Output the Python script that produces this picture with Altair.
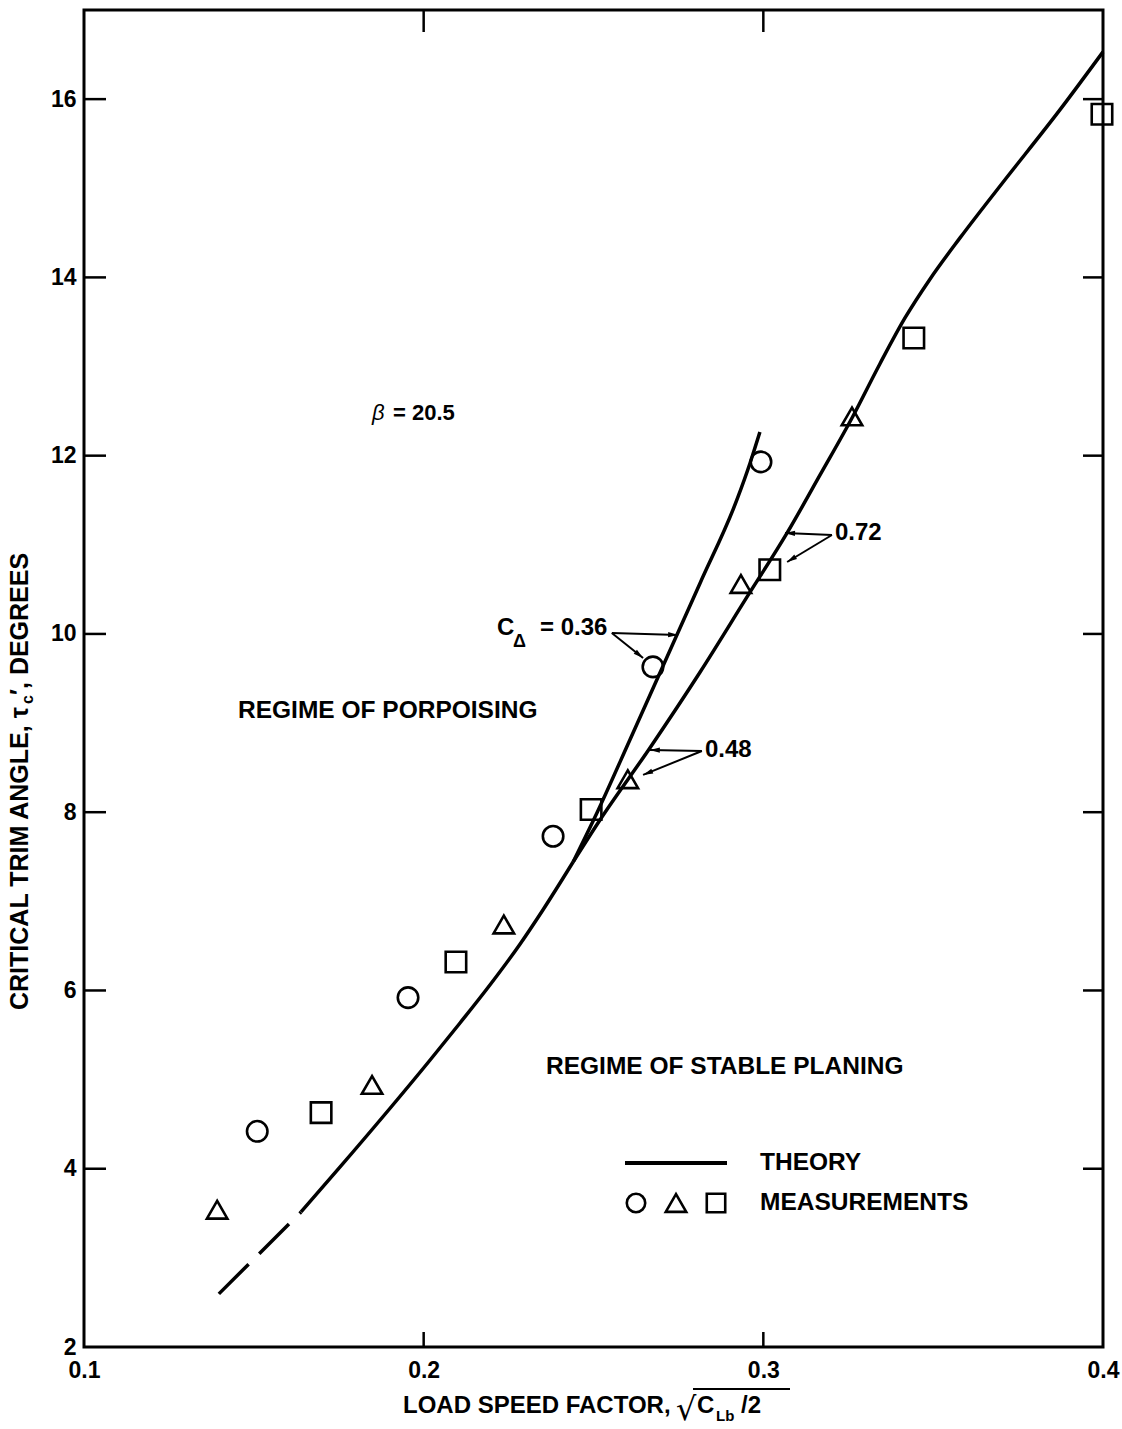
import math
import altair as alt
import pandas as pd

FONT = "Liberation Sans"

# plot area size in pixels and axis ranges
W, H = 1019, 1337
X_DOMAIN = [0.1, 0.4]
Y_DOMAIN = [2, 17]

# ---- measurements (three model series) ----
circle_x = [0.151, 0.1954, 0.2381, 0.2675, 0.2993]
circle_y = [4.42, 5.92, 7.73, 9.63, 11.93]
triangle_x = [0.1392, 0.1848, 0.2236, 0.2601, 0.2934, 0.3261]
triangle_y = [3.54, 4.94, 6.74, 8.37, 10.56, 12.44]
square_x = [0.1698, 0.2095, 0.2493, 0.3019, 0.3443, 0.3997]
square_y = [4.63, 6.32, 8.03, 10.72, 13.32, 15.83]

# ---- theory curves ----
low_dash_x = [0.1397, 0.1639]
low_dash_y = [2.596, 3.515]
common_x = [0.1639, 0.1754, 0.2019, 0.2107, 0.2195, 0.2284, 0.2351, 0.2440]
common_y = [3.515, 4.020, 5.220, 5.635, 6.061, 6.522, 6.903, 7.442]
c036_x = [0.2440, 0.2510, 0.2607, 0.2702, 0.2814, 0.2922, 0.2961, 0.2990]
c036_y = [7.442, 7.991, 8.810, 9.618, 10.572, 11.503, 11.918, 12.266]
c048_x = [0.2440, 0.2519, 0.2666, 0.2814, 0.2952, 0.3070, 0.3167, 0.3261, 0.3343,
          0.3417, 0.3491, 0.3579, 0.3697, 0.3873, 0.4000]
c048_y = [7.442, 7.913, 8.721, 9.573, 10.415, 11.133, 11.784, 12.423, 13.029,
          13.545, 13.983, 14.443, 15.026, 15.879, 16.530]

# tick values
y_ticks = [2, 4, 6, 8, 10, 12, 14, 16]
x_ticks = [0.1, 0.2, 0.3, 0.4]
y_inner_ticks = [4, 6, 8, 10, 12, 14, 16]
x_inner_ticks = [0.2, 0.3]

# leader lines for the C_delta labels: (origin, tip)
leaders = [
    ((0.2554, 10.011), (0.2749, 9.988)),
    ((0.2554, 10.011), (0.2646, 9.730)),
    ((0.3202, 11.110), (0.3064, 11.133)),
    ((0.3202, 11.110), (0.3070, 10.807)),
    ((0.2819, 8.687), (0.2666, 8.698)),
    ((0.2819, 8.687), (0.2646, 8.418)),
]

xs = alt.Scale(domain=X_DOMAIN, nice=False, zero=False)
ys = alt.Scale(domain=Y_DOMAIN, nice=False, zero=False)

axis_x = alt.Axis(
    values=x_ticks, format=".1f", ticks=False, tickSize=0, domain=False, grid=False,
    labelFont=FONT, labelFontSize=23, labelFontWeight="bold", labelColor="black",
    labelPadding=12, title=None, labelFlush=False,
)
axis_y = alt.Axis(
    values=y_ticks, format="d", ticks=False, tickSize=0, domain=False, grid=False,
    labelFont=FONT, labelFontSize=23, labelFontWeight="bold", labelColor="black",
    labelPadding=8, title=None, labelFlush=False,
)


def X(field="x"):
    return alt.X(f"{field}:Q", scale=xs, axis=axis_x, title=None)


def Y(field="y"):
    return alt.Y(f"{field}:Q", scale=ys, axis=axis_y, title=None)


meas = pd.DataFrame(
    {
        "x": circle_x + triangle_x + square_x,
        "y": circle_y + triangle_y + square_y,
        "shape": ["circle"] * len(circle_x)
        + ["triangle-up"] * len(triangle_x)
        + ["square"] * len(square_x),
    }
)


def curve_frame(segments):
    rows = []
    for name, xv, yv in segments:
        for i, (a, b) in enumerate(zip(xv, yv)):
            rows.append({"x": a, "y": b, "seg": name, "i": i})
    return pd.DataFrame(rows)


solid = curve_frame(
    [("common", common_x, common_y), ("c036", c036_x, c036_y), ("c048", c048_x, c048_y)]
)
dashed = curve_frame([("low", low_dash_x, low_dash_y)])

points = alt.Chart(meas).mark_point(
    filled=False, stroke="black", strokeWidth=2.6, size=420, opacity=1
).encode(
    x=X(), y=Y(),
    shape=alt.Shape(
        "shape:N",
        scale=alt.Scale(domain=["circle", "triangle-up", "square"],
                        range=["circle", "triangle-up", "square"]),
        legend=None,
    ),
)

solid_lines = alt.Chart(solid).mark_line(
    color="black", strokeWidth=3.5, interpolate="monotone"
).encode(x=X(), y=Y(), detail="seg:N", order="i:Q")
dashed_line = alt.Chart(dashed).mark_line(
    color="black", strokeWidth=3.5, strokeDash=[42, 15]
).encode(x=X(), y=Y(), order="i:Q")

# inward tick marks on all four sides
ydf = pd.DataFrame({"y": y_inner_ticks})
xdf = pd.DataFrame({"x": x_inner_ticks})
tick_style = dict(color="black", strokeWidth=2.5)
ticks_left = alt.Chart(ydf).mark_rule(**tick_style).encode(
    y=Y(), x=alt.value(0), x2=alt.value(22))
ticks_right = alt.Chart(ydf).mark_rule(**tick_style).encode(
    y=Y(), x=alt.value(W - 20), x2=alt.value(W))
ticks_top = alt.Chart(xdf).mark_rule(**tick_style).encode(
    x=X(), y=alt.value(0), y2=alt.value(22))
ticks_bottom = alt.Chart(xdf).mark_rule(**tick_style).encode(
    x=X(), y=alt.value(H - 15), y2=alt.value(H))

# leader lines with small arrowheads
lead_df = pd.DataFrame(
    [{"x": o[0], "y": o[1], "x2": t[0], "y2": t[1]} for o, t in leaders]
)
lead_lines = alt.Chart(lead_df).mark_rule(color="black", strokeWidth=2).encode(
    x=X(), y=Y(), x2="x2:Q", y2="y2:Q",
)
px_per_x = W / (X_DOMAIN[1] - X_DOMAIN[0])
px_per_y = H / (Y_DOMAIN[1] - Y_DOMAIN[0])
heads = []
for o, t in leaders:
    dx = (t[0] - o[0]) * px_per_x
    dy = -(t[1] - o[1]) * px_per_y
    ang = math.degrees(math.atan2(dx, -dy)) % 360
    heads.append({"x": t[0], "y": t[1], "ang": ang})
head_df = pd.DataFrame(heads)
arrow_heads = alt.Chart(head_df).mark_point(
    shape="M0,0L0.5,1.9L-0.5,1.9Z", filled=True, color="black", size=110, opacity=1
).encode(x=X(), y=Y(), angle=alt.Angle("ang:Q", scale=None))

one = pd.DataFrame({"k": [0]})


def label(text, x, y, size=24, weight="bold", align="left", baseline="middle",
          angle=0, font=FONT, style="normal"):
    return alt.Chart(one).mark_text(
        text=text, align=align, baseline=baseline, fontSize=size, fontWeight=weight,
        font=font, angle=angle, color="black", fontStyle=style,
    ).encode(x=alt.value(x), y=alt.value(y))


texts = [
    # x-axis title
    label("LOAD SPEED FACTOR,", 319, 1403, baseline="alphabetic"),
    label("\u221a", 592, 1410, size=32, weight="normal", font="DejaVu Sans",
          baseline="alphabetic"),
    label("C", 613, 1403, baseline="alphabetic"),
    label("Lb", 632, 1411, size=15, baseline="alphabetic"),
    label("/2", 657, 1403, baseline="alphabetic"),
    # y-axis title
    label("CRITICAL TRIM ANGLE, \u03c4", -56, 1000, size=25, angle=270,
          baseline="alphabetic"),
    label("c", -51, 694, size=16, angle=270, baseline="alphabetic"),
    label("\u2032, DEGREES", -56, 685, size=25, angle=270, baseline="alphabetic"),
    # regions
    label("REGIME OF PORPOISING", 154, 701, size=24.5),
    label("REGIME OF STABLE PLANING", 462, 1057, size=24.5),
    # beta
    label("\u03b2", 288, 403, size=22, weight="normal", style="italic"),
    label("= 20.5", 309, 403, size=22),
    # C_delta labels
    label("C", 413, 618),
    label("\u0394", 429, 632, size=18),
    label("= 0.36", 456, 618),
    label("0.72", 751, 523),
    label("0.48", 621, 740),
    # legend
    label("THEORY", 676, 1153, size=24.5),
    label("MEASUREMENTS", 676, 1193, size=24.5),
]

overline = alt.Chart(one).mark_rule(color="black", strokeWidth=2.2).encode(
    x=alt.value(609), x2=alt.value(706), y=alt.value(1379))
legend_line = alt.Chart(one).mark_rule(color="black", strokeWidth=4).encode(
    x=alt.value(541), x2=alt.value(643), y=alt.value(1153))
legend_syms = [
    alt.Chart(one).mark_point(shape=s, filled=False, stroke="black", strokeWidth=2.6,
                              size=sz, opacity=1).encode(x=alt.value(px), y=alt.value(1193))
    for s, px, sz in [("circle", 552, 340), ("triangle-up", 592, 420), ("square", 632, 340)]
]

chart = alt.layer(
    points, solid_lines, dashed_line,
    ticks_left, ticks_right, ticks_top, ticks_bottom,
    lead_lines, arrow_heads, overline, legend_line, *legend_syms, *texts,
).properties(
    width=W, height=H,
    padding={"left": 84, "top": 10, "right": 19, "bottom": 82},
    autosize=alt.AutoSizeParams(type="none"),
    background="white",
).configure_view(stroke="black", strokeWidth=3)

chart.save("out.html", embed_options={"renderer": "svg", "actions": False})
